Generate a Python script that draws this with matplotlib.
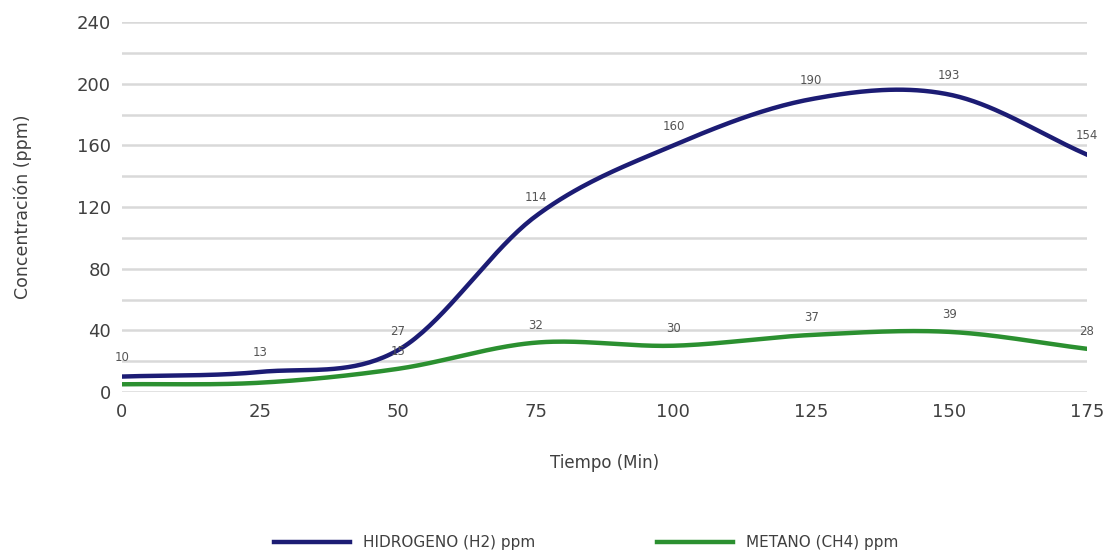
import numpy as np
from matplotlib import pyplot as plt

# --- data
tiempo = [0, 25, 50, 75, 100, 125, 150, 175]
h2 = [10, 13, 27, 114, 160, 190, 193, 154]
ch4 = [5, 6, 15, 32, 30, 37, 39, 28]
h2_labels = ["10", "13", "27", "114", "160", "190", "193", "154"]
ch4_labels = ["", "", "15", "32", "30", "37", "39", "28"]


def smooth(x, y, n=40):
    # catmull-rom spline through the points, like a spreadsheet "smoothed line"
    x = np.asarray(x, float)
    y = np.asarray(y, float)
    px = np.concatenate([[2 * x[0] - x[1]], x, [2 * x[-1] - x[-2]]])
    py = np.concatenate([[2 * y[0] - y[1]], y, [2 * y[-1] - y[-2]]])
    t = np.linspace(0, 1, n)
    xs, ys = [], []
    for i in range(1, len(px) - 2):
        for p, out in ((px, xs), (py, ys)):
            p0, p1, p2, p3 = p[i - 1], p[i], p[i + 1], p[i + 2]
            out.append(0.5 * (2 * p1 + (-p0 + p2) * t
                              + (2 * p0 - 5 * p1 + 4 * p2 - p3) * t ** 2
                              + (-p0 + 3 * p1 - 3 * p2 + p3) * t ** 3))
    return np.concatenate(xs), np.concatenate(ys)


fig = plt.figure(figsize=(11.12, 5.52), dpi=100)
ax = fig.add_axes([0.1097, 0.2899, 0.8678, 0.6701])

for yv in range(0, 241, 20):
    ax.axhline(yv, color="#d9d9d9", lw=1.8, zorder=0)

hx, hy = smooth(tiempo, h2)
cx, cy = smooth(tiempo, ch4)
ax.plot(hx, hy, color="#1c1c74", lw=3.2, label="HIDROGENO (H2) ppm", zorder=3)
ax.plot(cx, cy, color="#2b9030", lw=3.2, label="METANO (CH4) ppm", zorder=2)

for x, v, s in zip(tiempo, h2, h2_labels):
    ax.annotate(s, (x, v), xytext=(0, 9), textcoords="offset points",
                ha="center", va="bottom", fontsize=8.5, color="#555555", zorder=4)
for x, v, s in zip(tiempo, ch4, ch4_labels):
    if s:
        ax.annotate(s, (x, v), xytext=(0, 8), textcoords="offset points",
                    ha="center", va="bottom", fontsize=8.5, color="#555555", zorder=4)

ax.set_xlim(0, 175)
ax.set_ylim(0, 240)
ax.set_xticks(tiempo)
ax.set_yticks(range(0, 241, 40))
ax.tick_params(axis="both", length=0, labelsize=13, colors="#404040")
ax.tick_params(axis="x", pad=8)
ax.tick_params(axis="y", pad=8)
for sp in ax.spines.values():
    sp.set_visible(False)

ax.set_xlabel("Tiempo (Min)", fontsize=12, color="#404040", labelpad=24)
ax.set_ylabel("Concentración (ppm)", fontsize=12.5, color="#404040", labelpad=32)

fig.legend(loc="lower center", bbox_to_anchor=(0.527, -0.022), ncol=2, frameon=False,
           fontsize=11, handlelength=5, columnspacing=8, labelcolor="#404040")

fig.savefig("out.png", dpi=100)
